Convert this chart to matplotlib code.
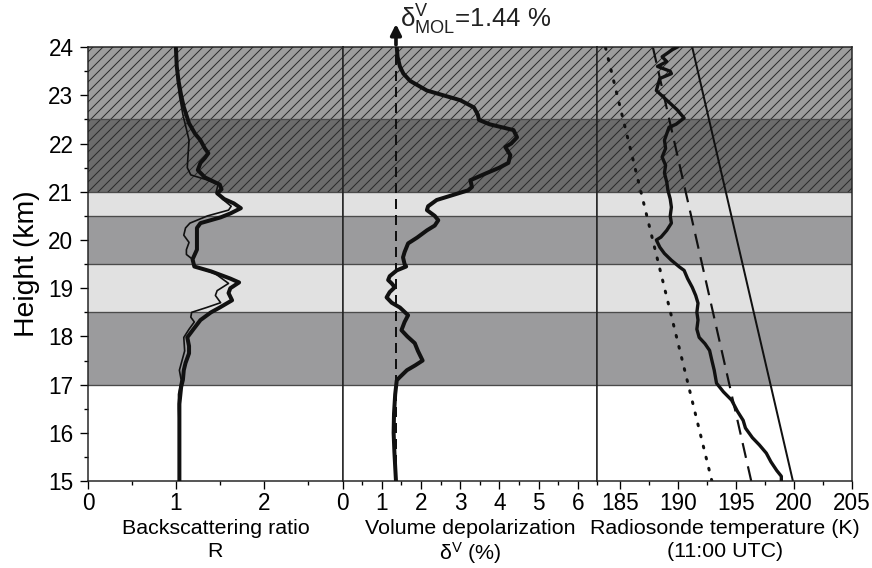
import matplotlib
matplotlib.use('Agg')
import matplotlib.pyplot as plt

# backscattering ratio R, thick and thin profiles
r_thick_h = [24.0, 23.6, 23.3, 23.0, 22.76, 22.42, 22.2, 22.07, 21.9, 21.8, 21.7, 21.6, 21.45, 21.3,
             21.15, 21.05, 20.97, 20.85, 20.76, 20.66, 20.55, 20.47, 20.35, 20.25, 20.0, 19.8, 19.6,
             19.45, 19.35, 19.2, 19.12, 19.0, 18.9, 18.75, 18.6, 18.5, 18.34, 18.15, 17.98, 17.8,
             17.65, 17.45, 17.3, 17.1, 16.95, 16.6, 16.0, 15.5, 15.0]
r_thick = [1.00, 1.01, 1.03, 1.06, 1.09, 1.15, 1.22, 1.28, 1.33, 1.37, 1.33, 1.28, 1.25, 1.33,
           1.50, 1.52, 1.47, 1.55, 1.66, 1.74, 1.62, 1.51, 1.28, 1.24, 1.24, 1.24, 1.19,
           1.21, 1.40, 1.62, 1.72, 1.62, 1.60, 1.64, 1.50, 1.40, 1.28, 1.20, 1.13, 1.15,
           1.15, 1.11, 1.09, 1.08, 1.06, 1.04, 1.04, 1.04, 1.04]
r_thin_h = [24.0, 23.3, 23.0, 22.8, 22.6, 22.3, 22.07, 21.8, 21.5, 21.35, 21.25, 21.15, 21.0, 20.85,
            20.7, 20.62, 20.5, 20.35, 20.25, 20.1, 19.95, 19.8, 19.7, 19.6, 19.45, 19.3, 19.1,
            18.95, 18.85, 18.7, 18.6, 18.5, 18.4, 18.3, 18.15, 17.98, 17.7, 17.5, 17.3, 17.1,
            16.8, 16.5, 16.0, 15.5, 15.0]
r_thin = [1.00, 1.02, 1.04, 1.06, 1.08, 1.12, 1.15, 1.14, 1.13, 1.17, 1.35, 1.48, 1.46, 1.53,
          1.63, 1.60, 1.36, 1.16, 1.11, 1.09, 1.15, 1.12, 1.12, 1.19, 1.22, 1.45, 1.60,
          1.47, 1.45, 1.51, 1.35, 1.18, 1.17, 1.21, 1.15, 1.09, 1.10, 1.07, 1.04, 1.06,
          1.03, 1.03, 1.04, 1.04, 1.04]

# volume depolarization (%)
dep_h = [24.0, 23.8, 23.6, 23.45, 23.3, 23.1, 22.9, 22.75, 22.6, 22.49, 22.4, 22.28, 22.13, 22.0,
         21.93, 21.76, 21.6, 21.5, 21.39, 21.24, 21.1, 21.03, 20.93, 20.83, 20.7, 20.62, 20.5,
         20.41, 20.3, 20.2, 20.05, 19.93, 19.75, 19.64, 19.5, 19.45, 19.37, 19.25, 19.17, 19.1,
         19.02, 18.92, 18.81, 18.7, 18.6, 18.44, 18.3, 18.13, 18.0, 17.86, 17.7, 17.5, 17.4,
         17.3, 17.15, 17.09, 16.8, 16.4, 16.0, 15.6, 15.0]
dep = [1.38, 1.40, 1.46, 1.55, 1.72, 2.15, 3.0, 3.35, 3.45, 3.48, 3.75, 4.36, 4.45, 4.3,
       4.15, 4.28, 4.23, 4.0, 3.68, 3.26, 3.3, 3.2, 2.8, 2.4, 2.18, 2.15, 2.35,
       2.44, 2.35, 2.15, 1.9, 1.67, 1.58, 1.54, 1.58, 1.62, 1.38, 1.2, 1.16, 1.25,
       1.33, 1.2, 1.12, 1.25, 1.46, 1.67, 1.58, 1.50, 1.65, 1.84, 1.92, 2.04, 1.85,
       1.64, 1.45, 1.38, 1.34, 1.31, 1.30, 1.32, 1.36]
dep_mol = 1.36
dep_mol_label = 1.44

# radiosonde temperature (K)
temp_h = [24.0, 23.95, 23.8, 23.7, 23.6, 23.5, 23.45, 23.35, 23.1, 22.9, 22.7, 22.53, 22.4, 22.34,
          22.07, 21.9, 21.72, 21.55, 21.39, 21.2, 21.03, 20.85, 20.68, 20.5, 20.35, 20.2, 20.06,
          20.0, 19.85, 19.72, 19.58, 19.44, 19.37, 19.2, 19.02, 18.85, 18.69, 18.5, 18.34, 18.15,
          17.98, 17.85, 17.71, 17.5, 17.3, 17.03, 16.85, 16.68, 16.45, 16.26, 16.1, 15.9, 15.75,
          15.58, 15.4, 15.22, 15.1, 15.0]
temp = [189.9, 189.5, 188.6, 189.0, 188.2, 189.3, 189.4, 188.4, 188.1, 189.0, 189.9, 190.5, 189.8, 189.2,
        188.8, 188.9, 188.6, 188.9, 188.8, 189.0, 189.1, 189.3, 189.4, 189.3, 189.4, 189.0, 188.5,
        188.1, 188.4, 188.8, 189.4, 190.1, 190.5, 190.8, 191.2, 191.5, 191.7, 191.6, 191.7, 191.6,
        191.8, 192.3, 192.7, 192.9, 193.1, 193.3, 193.9, 194.6, 195.1, 195.6, 195.8, 196.4, 197.0,
        197.6, 198.0, 198.5, 198.9, 198.9]
line_h = [15.0, 24.0]
t_dotted = [192.9, 183.7]
t_dashed = [196.3, 187.8]
t_solid = [199.9, 191.2]

# layers: (bottom, top)
band_bounds = [(17.0, 18.5), (18.5, 19.5), (19.5, 20.5), (20.5, 21.0), (21.0, 22.5), (22.5, 24.0)]
band_colors = ['#9b9b9d', '#e1e1e1', '#9b9b9d', '#e1e1e1', '#6c6c6c', '#9d9d9d']
band_hatch = [None, None, None, None, '////', '////']

plt.rcParams['font.family'] = ['Liberation Sans', 'DejaVu Sans']
plt.rcParams['mathtext.fontset'] = 'custom'
plt.rcParams['mathtext.rm'] = 'Liberation Sans'
plt.rcParams['mathtext.it'] = 'Liberation Sans:italic'
plt.rcParams['hatch.linewidth'] = 0.6
plt.rcParams['text.color'] = '#222222'

dpi = 120
fig, axes = plt.subplots(1, 3, sharey=True, figsize=(872 / dpi, 568 / dpi), dpi=dpi,
                         gridspec_kw=dict(wspace=0))
fig.subplots_adjust(left=0.101, right=0.977, top=0.917, bottom=0.153)

for ax in axes:
    for (b, t), c, h in zip(band_bounds, band_colors, band_hatch):
        ax.axhspan(b, t, facecolor=c, edgecolor='#2a2a2a' if h else c, hatch=h, lw=0, zorder=0)
        ax.axhline(b, color='#4a4a4a', lw=0.8, zorder=1)
    ax.set_ylim(15, 24)
    for s in ax.spines.values():
        s.set_linewidth(0.9)
        s.set_color('#222222')
    ax.tick_params(which='major', direction='out', length=4.8, width=0.8, labelsize=13.5, pad=2)
    ax.tick_params(which='minor', direction='out', length=2.6, width=0.8)

ax1, ax2, ax3 = axes

ax1.plot(r_thick, r_thick_h, color='#111111', lw=2.4, zorder=3)
ax1.plot(r_thin, r_thin_h, color='#111111', lw=1.0, zorder=4)
ax1.set_xlim(0, 2.9)
ax1.set_xticks([0, 1, 2])
ax1.set_xticks([0.5, 1.5, 2.5], minor=True)
ax1.set_yticks(range(15, 25))
ax1.set_yticks([y + 0.5 for y in range(15, 24)], minor=True)
ax1.tick_params(axis='y', which='major', pad=4)
ax1.set_xlabel('Backscattering ratio\nR', fontsize=12.8, labelpad=2, linespacing=1.3)
ax1.set_ylabel('Height (km)', fontsize=17, labelpad=5)

ax2.plot([dep_mol, dep_mol], line_h, color='#111111', lw=1.2, ls=(0, (5, 3)), zorder=2)
ax2.plot(dep, dep_h, color='#111111', lw=2.4, zorder=3)
ax2.annotate('', xy=(dep_mol, 24.55), xytext=(dep_mol, 23.98),
             arrowprops=dict(arrowstyle='-|>', lw=2.2, color='#111111', mutation_scale=13),
             annotation_clip=False)
ax2.text(1.47, 24.57, r'$\mathrm{\delta}^{\mathrm{V}}_{\mathrm{MOL}}$' + f'={dep_mol_label:.2f} %',
         fontsize=15.5, va='center', ha='left', clip_on=False)
ax2.set_xlim(0, 6.5)
ax2.set_xticks(range(0, 7))
ax2.set_xticks([x + 0.5 for x in range(0, 7)], minor=True)
ax2.set_xlabel('Volume depolarization\n' + r'$\mathrm{\delta}^{\mathrm{V}}$ (%)', fontsize=12.8,
               labelpad=2, linespacing=1.12)
ax2.tick_params(axis='y', which='both', left=False)

ax3.plot(t_dotted, line_h, color='#111111', lw=1.8, ls=(0, (0.6, 3.2)), dash_capstyle='round', zorder=2)
ax3.plot(t_dashed, line_h, color='#111111', lw=1.3, ls=(0, (7, 4)), zorder=2)
ax3.plot(t_solid, line_h, color='#111111', lw=1.2, zorder=2)
ax3.plot(temp, temp_h, color='#111111', lw=2.0, zorder=3)
ax3.set_xlim(183, 205)
ax3.set_xticks(range(185, 206, 5))
ax3.set_xticks([187.5, 192.5, 197.5, 202.5], minor=True)
ax3.set_xlabel('Radiosonde temperature (K)\n(11:00 UTC)', fontsize=12.8, labelpad=2, linespacing=1.3)
ax3.tick_params(axis='y', which='both', left=False)

fig.savefig('out.png', dpi=dpi)
